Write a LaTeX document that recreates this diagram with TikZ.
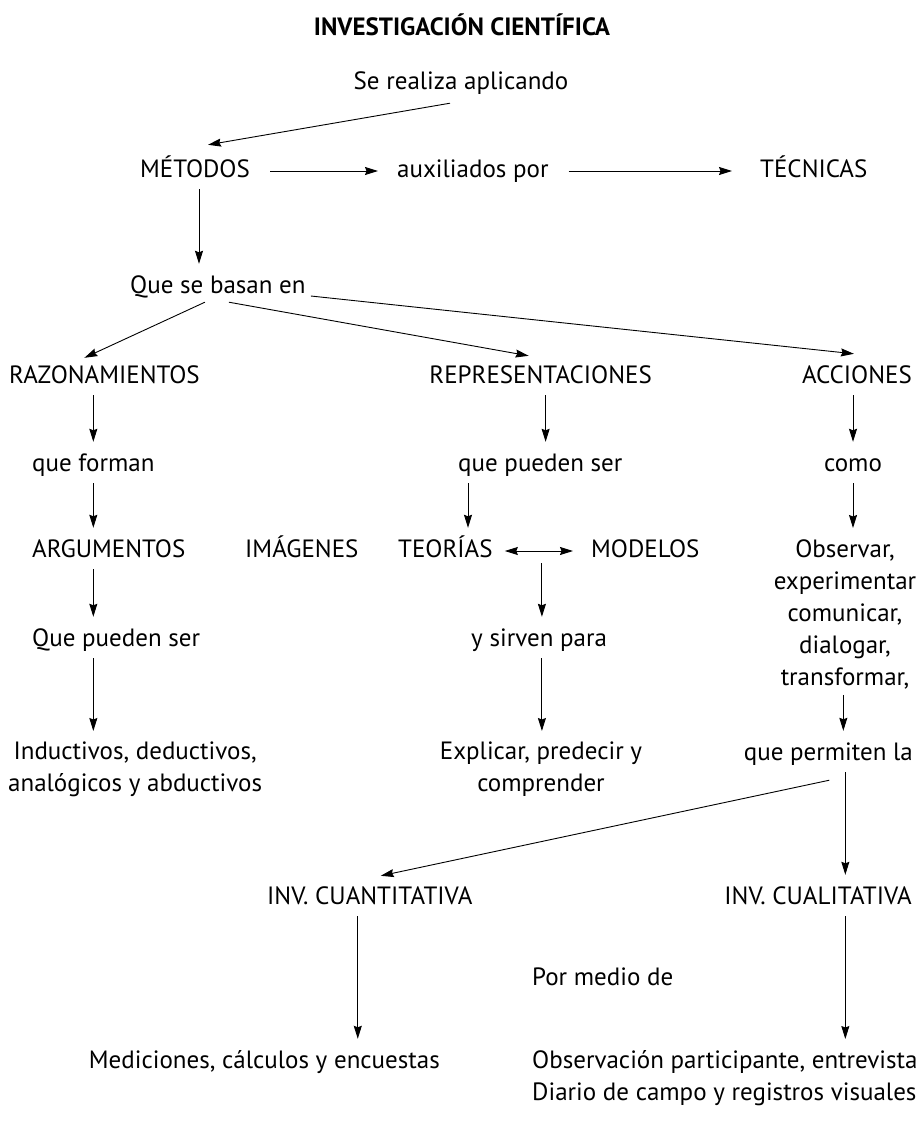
\documentclass[tikz,border=0pt]{standalone}
\usepackage{fontspec}
\setmainfont{PT Sans}
\usetikzlibrary{arrows.meta,calc}

\tikzset{
  txt/.style={font=\fontsize{25}{32}\selectfont, inner sep=0pt, text height=18pt, text depth=6pt},
  blk/.style={font=\fontsize{25}{32}\selectfont, inner sep=0pt},
  titulo/.style={font=\fontsize{25}{30}\selectfont\bfseries, inner sep=0pt},
  punta/.tip={Stealth[length=13pt,width=8pt,inset=1.5pt]},
  flecha/.style={-punta, line width=0.9pt, shorten <=6pt, shorten >=11pt},
  diag/.style={-punta, line width=0.9pt},
  doble/.style={punta-punta, line width=0.9pt, shorten <=12pt, shorten >=18pt},
}

\begin{document}
\begin{tikzpicture}[x=1pt,y=-1pt]
\useasboundingbox (0,0) rectangle (921,1121);
% nodos
\node[titulo, anchor=base] (titulo) at (462,36) {INVESTIGACIÓN CIENTÍFICA};
\node[txt, anchor=base] (realiza) at (461,90) {Se realiza aplicando};
\node[txt, anchor=base] (metodos) at (195,177) {MÉTODOS};
\node[txt, anchor=base west] (auxiliados) at (397,177) {auxiliados por};
\node[txt, anchor=base west] (tecnicas) at (760,177) {TÉCNICAS};
\node[txt, anchor=base west] (basan) at (130,293) {Que se basan en};
\node[txt, anchor=base west] (razon) at (9,383) {RAZONAMIENTOS};
\node[txt, anchor=base east] (repres) at (652,383) {REPRESENTACIONES};
\node[txt, anchor=base east] (acciones) at (912,383) {ACCIONES};
\node[txt, anchor=base west] (forman) at (32,471) {que forman};
\node[txt, anchor=base west] (pueden) at (458,471) {que pueden ser};
\node[txt, anchor=base] (como) at (853,471) {como};
\node[txt, anchor=base west] (argum) at (32,557) {ARGUMENTOS};
\node[txt, anchor=base west] (imagenes) at (245,557) {IMÁGENES};
\node[txt, anchor=base west] (teorias) at (398,557) {TEORÍAS};
\node[txt, anchor=base west] (modelos) at (591,557) {MODELOS};
\node[blk, align=center, anchor=north] (observar) at (845,539)
  {Observar,\\experimentar\\comunicar,\\dialogar,\\transformar,};
\node[txt, anchor=base west] (puedenser) at (32,646) {Que pueden ser};
\node[txt, anchor=base west] (sirven) at (471,646) {y sirven para};
\node[blk, align=center, anchor=north west] (inductivos) at (8,742)
  {Inductivos, deductivos,\\analógicos y abductivos};
\node[blk, align=center, anchor=north] (explicar) at (541,742)
  {Explicar, predecir y\\comprender};
\node[txt, anchor=base east] (permiten) at (913,760) {que permiten la};
\node[txt, anchor=base west] (cuanti) at (267,904) {INV. CUANTITATIVA};
\node[txt, anchor=base east] (cuali) at (912,904) {INV. CUALITATIVA};
\node[txt, anchor=base west] (pormedio) at (532,985) {Por medio de};
\node[txt, anchor=base east] (mediciones) at (440,1068) {Mediciones, cálculos y encuestas};
\node[blk, align=left, anchor=north west] (registros) at (532,1050)
  {Observación participante, entrevista\\Diario de campo y registros visuales};
\coordinate (tm) at ($(teorias.east)!.5!(modelos.west)$);
% conectores
\draw[diag] ([shift={(-11,7)}]realiza.south) -- ([shift={(13,-14)}]metodos.north);
\draw[flecha, shorten <=20pt, shorten >=19pt] (metodos) -- (auxiliados);
\draw[flecha, shorten <=20pt, shorten >=28pt] (auxiliados) -- (tecnicas);
\draw[flecha] ([xshift=4pt]metodos.south) -- ([xshift=4pt]metodos.south |- basan.north);
\draw[diag] ([shift={(-13,3)}]basan.south) -- ([shift={(-20,-7)}]razon.north);
\draw[diag] ([shift={(11,3)}]basan.south) -- ([shift={(-12,-9)}]repres.north);
\draw[diag] ([shift={(5,9)}]basan.east) -- ([shift={(-3,-11)}]acciones.north);
\draw[flecha] (razon.south -| forman.south) -- (forman.north);
\draw[flecha] ([xshift=5pt]repres.south) -- ([xshift=5pt]repres.south |- pueden.north);
\draw[flecha] (acciones.south -| como) -- (como);
\draw[flecha] (forman) -- (forman |- argum.north);
\draw[flecha] ([xshift=10pt]pueden.south west) -- ([xshift=10pt]pueden.south west |- teorias.north);
\draw[flecha] (como) -- (observar.north -| como);
\draw[doble] (teorias) -- (modelos);
\draw[flecha, shorten <=12pt] (tm) -- (tm |- sirven.north);
\draw[flecha] (forman |- argum.south) -- (forman |- puedenser.north);
\draw[flecha] (forman |- puedenser.south) -- (forman |- inductivos.north);
\draw[flecha] (sirven.south -| tm) -- (tm |- explicar.north);
\draw[flecha] ([xshift=15pt]permiten.north |- observar.south) -- ([xshift=15pt]permiten.north);
\draw[diag] ([shift={(1,14)}]permiten.south) -- ([shift={(11,-10)}]cuanti.north);
\draw[flecha] ([xshift=17pt]permiten.south) -- ([xshift=17pt]permiten.south |- cuali.north);
\draw[flecha] ([xshift=-12pt]cuanti.south) -- ([xshift=-12pt]cuanti.south |- mediciones.north);
\draw[flecha] ([xshift=17pt]permiten.south |- cuali.south) -- ([xshift=17pt]permiten.south |- registros.north);
\end{tikzpicture}
\end{document}
